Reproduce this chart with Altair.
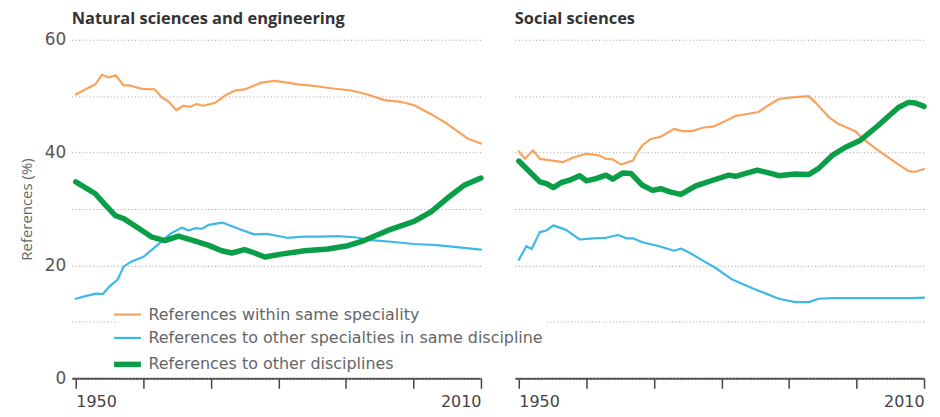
import altair as alt
import pandas as pd

panels = ["Natural sciences and engineering", "Social sciences"]
series_names = [
    "References within same speciality",
    "References to other specialties in same discipline",
    "References to other disciplines",
]
colors = ["#f7a35c", "#3cb9e6", "#0b9e48"]

# Natural sciences and engineering
nat_same_year = [1950, 1951.9, 1952.9, 1953.9, 1954.9, 1955.9, 1957.1, 1958, 1959.8, 1961.7, 1962.7, 1963.7,
                 1964.9, 1965.9, 1966.9, 1967.9, 1968.9, 1970.6, 1972.1, 1973.6, 1975, 1977.5, 1979.4, 1980.9,
                 1982.9, 1985.4, 1987.8, 1990.8, 1993.2, 1995.7, 1998.1, 2000.1, 2002.5, 2005, 2008, 2010]
nat_same_val = [50.3, 51.5, 52.1, 53.8, 53.3, 53.7, 51.9, 51.9, 51.3, 51.2, 49.8, 49.1,
                47.5, 48.3, 48.1, 48.6, 48.3, 48.8, 50.1, 51.0, 51.2, 52.4, 52.7, 52.5,
                52.1, 51.8, 51.4, 51.0, 50.3, 49.3, 49.0, 48.4, 46.9, 45.1, 42.5, 41.6]

nat_spec_year = [1950, 1951.6, 1953, 1954, 1955, 1956.2, 1957.1, 1958.1, 1960.1, 1962, 1964, 1965.7,
                 1966.7, 1967.7, 1968.7, 1969.7, 1971.7, 1973.9, 1976.4, 1978.3, 1981.3, 1983.8, 1986.3,
                 1988.8, 1991.3, 1993.7, 1996.7, 2000.1, 2003.5, 2007.5, 2010]
nat_spec_val = [14.1, 14.6, 15.0, 14.9, 16.3, 17.5, 19.8, 20.6, 21.6, 23.5, 25.6, 26.7,
                26.2, 26.6, 26.5, 27.2, 27.6, 26.6, 25.5, 25.6, 24.9, 25.1, 25.1,
                25.2, 25.0, 24.5, 24.2, 23.8, 23.6, 23.1, 22.8]

nat_disc_year = [1950, 1952.9, 1954.4, 1955.9, 1957.1, 1959.3, 1961.3, 1963.2, 1965.2, 1967.2, 1969.6,
                 1971.6, 1973.1, 1975, 1976.5, 1978, 1980.4, 1983.9, 1987.3, 1990.3, 1992.7, 1996.2,
                 2000.1, 2002.6, 2005, 2007.5, 2009.4, 2010]
nat_disc_val = [34.8, 32.7, 30.7, 28.8, 28.3, 26.6, 25.0, 24.4, 25.2, 24.5, 23.6,
                22.6, 22.2, 22.8, 22.2, 21.5, 22.0, 22.6, 22.9, 23.5, 24.4, 26.2,
                27.8, 29.5, 31.9, 34.2, 35.2, 35.5]

# Social sciences
soc_same_year = [1950, 1950.9, 1952.1, 1953.1, 1956.5, 1958, 1960, 1961.9, 1962.9, 1963.9, 1965.1,
                 1966.9, 1967.6, 1968.3, 1969.5, 1971, 1973, 1974.2, 1975.7, 1977.2, 1978.7, 1980.6,
                 1982.1, 1983.6, 1985.5, 1987, 1988.5, 1990.5, 1992.9, 1993.9, 1995.9, 1997.3, 1999.8,
                 2001.1, 2003.2, 2005.7, 2007.7, 2008.7, 2010]
soc_same_val = [40.2, 38.9, 40.4, 38.9, 38.3, 39.1, 39.8, 39.5, 38.9, 38.8, 37.9,
                38.6, 40.1, 41.3, 42.4, 42.8, 44.2, 43.8, 43.8, 44.4, 44.6, 45.6,
                46.5, 46.8, 47.2, 48.4, 49.5, 49.8, 50.0, 48.9, 46.3, 45.1, 43.8,
                42.3, 40.4, 38.3, 36.7, 36.6, 37.1]

soc_spec_year = [1950, 1951.1, 1951.9, 1953.1, 1954.1, 1955.1, 1957, 1959, 1961, 1962.9, 1964.7, 1965.9,
                 1966.9, 1968.3, 1970.8, 1973, 1974, 1975.2, 1977.2, 1979.2, 1981.6, 1984.5, 1988.5,
                 1990.9, 1992.9, 1994.4, 1996.4, 1998.3, 2003.2, 2008.2, 2010]
soc_spec_val = [21.0, 23.4, 22.9, 25.9, 26.2, 27.1, 26.3, 24.6, 24.8, 24.9, 25.4, 24.8,
                24.8, 24.1, 23.4, 22.6, 23.0, 22.3, 20.9, 19.5, 17.5, 16.0, 14.1,
                13.5, 13.5, 14.1, 14.2, 14.2, 14.2, 14.2, 14.3]

soc_disc_year = [1950, 1951.6, 1953.1, 1954.1, 1955.1, 1956.3, 1957.5, 1959, 1960, 1961.4, 1962.9, 1963.9,
                 1965.4, 1966.6, 1968.3, 1969.8, 1971, 1972.5, 1974, 1976.2, 1978.7, 1981.1, 1982.1,
                 1983.6, 1985.3, 1987, 1988.5, 1990.9, 1992.9, 1994.4, 1996.4, 1998.3, 2000.6, 2003.2,
                 2006.2, 2007.7, 2008.7, 2010]
soc_disc_val = [38.5, 36.6, 34.8, 34.5, 33.8, 34.7, 35.1, 35.9, 35.0, 35.4, 36.0, 35.3,
                36.4, 36.3, 34.2, 33.3, 33.6, 33.0, 32.6, 34.1, 35.1, 36.0, 35.8,
                36.3, 36.9, 36.4, 35.9, 36.2, 36.1, 37.2, 39.5, 40.9, 42.2, 44.8,
                48.0, 48.9, 48.8, 48.2]

data_sets = [
    (panels[0], series_names[0], nat_same_year, nat_same_val),
    (panels[0], series_names[1], nat_spec_year, nat_spec_val),
    (panels[0], series_names[2], nat_disc_year, nat_disc_val),
    (panels[1], series_names[0], soc_same_year, soc_same_val),
    (panels[1], series_names[1], soc_spec_year, soc_spec_val),
    (panels[1], series_names[2], soc_disc_year, soc_disc_val),
]
rows = []
for panel, s, ys, vs in data_sets:
    for i, (y, v) in enumerate(zip(ys, vs)):
        rows.append({"panel": panel, "series": s, "year": y, "value": v, "order": i})
df = pd.DataFrame(rows)

TEXT_FONT = "Open Sans"
NUM_FONT = "DejaVu Sans"
THICK = series_names[2]

base = alt.Chart(df).mark_line(strokeCap="round", strokeJoin="round").encode(
    x=alt.X(
        "year:Q",
        scale=alt.Scale(domain=[1949.4, 2010], nice=False, zero=False),
        axis=alt.Axis(
            title=None,
            values=[1950, 1960, 1970, 1980, 1990, 2000, 2010],
            format="d",
            labelExpr="datum.value == 1950 || datum.value == 2010 ? datum.label : ''",
            labelFlush=6,
            grid=False,
            domainColor="#444",
            domainWidth=2,
            tickColor="#444",
            tickWidth=1.5,
            tickSize=10,
            labelPadding=5,
            labelFontSize=16,
            labelFont=NUM_FONT,
            labelColor="#444",
        ),
    ),
    y=alt.Y(
        "value:Q",
        scale=alt.Scale(domain=[0, 60], nice=False),
        axis=alt.Axis(
            title="References (%)",
            values=[0, 10, 20, 30, 40, 50, 60],
            labelExpr="datum.value % 20 == 0 ? datum.label : ''",
            domain=False,
            ticks=False,
            grid=True,
            gridColor="#9a9a9a",
            gridDash=[1, 2.5],
            gridWidth=1,
            labelPadding=6,
            labelFontSize=17,
            labelFont=NUM_FONT,
            labelColor="#555",
            titleFontSize=15,
            titleFont=TEXT_FONT,
            titleFontWeight="normal",
            titleColor="#666",
            titlePadding=10,
        ),
    ),
    color=alt.Color(
        "series:N",
        sort=series_names,
        scale=alt.Scale(domain=series_names, range=colors),
        legend=alt.Legend(
            title=None,
            orient="none",
            legendX=46,
            legendY=266,
            symbolType="stroke",
            symbolSize=729,
            symbolStrokeWidth=alt.ExprRef(expr="datum.value == '" + THICK + "' ? 5.5 : 2.2"),
            labelFontSize=16,
            labelFont=NUM_FONT,
            labelColor="#666",
            labelLimit=600,
            labelOffset=13,
            fillColor="white",
            padding=2,
            rowPadding=7.5,
        ),
    ),
    strokeWidth=alt.condition(alt.datum.series == THICK, alt.value(5.5), alt.value(2.2)),
    order="order:Q",
).properties(width=411, height=340)

chart = base.facet(
    column=alt.Column(
        "panel:N",
        sort=panels,
        header=alt.Header(
            title=None,
            labelFontSize=16.5,
            labelFontWeight="bold",
            labelAnchor="start",
            labelColor="#333",
            labelPadding=12,
            labelFont=TEXT_FONT,
        ),
    ),
    spacing=31,
).configure_view(stroke=None).properties(
    padding={"left": 11, "top": 2, "right": 5, "bottom": 5}
)

chart.save("out.html", embed_options={"renderer": "svg", "actions": False})
